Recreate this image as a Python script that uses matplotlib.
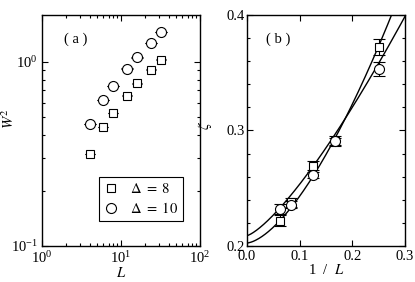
import numpy as np
import matplotlib
matplotlib.use("Agg")
import matplotlib.pyplot as plt
from matplotlib.lines import Line2D
from matplotlib.ticker import MultipleLocator, LogLocator, NullFormatter

plt.rcParams['font.family'] = ['Liberation Serif', 'DejaVu Serif']
plt.rcParams['mathtext.fontset'] = 'stix'
plt.rcParams['font.size'] = 10.5

# system sizes
L_vals = [4, 6, 8, 12, 16, 24, 32]
# W^2 vs L, panel (a)
w2_d8 = [0.316, 0.444, 0.528, 0.656, 0.765, 0.91, 1.03]
w2_d10 = [0.46, 0.622, 0.74, 0.92, 1.06, 1.27, 1.46]
w2_err_d8 = [0.001, 0.001, 0.001, 0.002, 0.002, 0.002, 0.003]
w2_err_d10 = [0.001, 0.002, 0.002, 0.002, 0.003, 0.003, 0.004]

# zeta vs 1/L, panel (b)
L_b = [4, 6, 8, 12, 16]
zeta_d8 = [0.372, 0.291, 0.2695, 0.2377, 0.222]
zeta_d10 = [0.353, 0.2905, 0.2615, 0.2357, 0.232]
zeta_err_d8 = [0.007, 0.004, 0.004, 0.004, 0.005]
zeta_err_d10 = [0.006, 0.003, 0.003, 0.003, 0.004]

# fit zeta = a + b * (1/L)^p
fit_d8 = (0.2026, 1.497, 1.567)
fit_d10 = (0.209, 0.93, 1.32)

fig = plt.figure(figsize=(4.15, 2.82), dpi=100)
ax1 = fig.add_axes([42/415, 1-246/282, 158/415, 231/282])
ax2 = fig.add_axes([247/415, 1-246/282, 158/415, 231/282])

mk = dict(mfc='white', mec='black', color='black', ls='none', mew=0.8,
          elinewidth=0.8, capthick=0.8)

ax1.errorbar(L_vals, w2_d8, yerr=w2_err_d8, marker='s', ms=6, capsize=3.6, **mk)
ax1.errorbar(L_vals, w2_d10, yerr=w2_err_d10, marker='o', ms=7.2, capsize=4.2, **mk)
ax1.set_xscale('log')
ax1.set_yscale('log')
ax1.set_xlim(1, 100)
ax1.set_ylim(0.1, 1.8)
ax1.xaxis.set_minor_locator(LogLocator(subs=np.arange(2, 10)))
ax1.yaxis.set_minor_locator(LogLocator(subs=np.arange(2, 10)))
ax1.xaxis.set_minor_formatter(NullFormatter())
ax1.yaxis.set_minor_formatter(NullFormatter())
ax1.set_xlabel(r'$L$', labelpad=0)
ax1.set_ylabel(r'$W^2$')
ax1.yaxis.set_label_coords(-25/158, 0.55)
ax1.text(0.14, 0.88, '( a )', transform=ax1.transAxes)

handles = [Line2D([], [], marker='s', ms=6, mfc='white', mec='black', mew=0.8, ls='none'),
           Line2D([], [], marker='o', ms=7.2, mfc='white', mec='black', mew=0.8, ls='none')]
leg = ax1.legend(handles, [r'$\Delta\ =\ 8$', r'$\Delta\ =\ 10$'], loc='lower right',
                 bbox_to_anchor=(0.94, 0.075), frameon=True, fancybox=False,
                 handletextpad=0.8, borderpad=0.35, labelspacing=0.35, handlelength=1.0,
                 fontsize=10.5, framealpha=1)
leg.get_frame().set_edgecolor('black')
leg.get_frame().set_linewidth(0.8)

x_b = 1.0 / np.array(L_b)
ax2.errorbar(x_b, zeta_d8, yerr=zeta_err_d8, marker='s', ms=6, capsize=4, **mk)
ax2.errorbar(x_b, zeta_d10, yerr=zeta_err_d10, marker='o', ms=7.2, capsize=4, **mk)
xx = np.linspace(0, 0.3, 200)
for a, b, p in (fit_d8, fit_d10):
    ax2.plot(xx, a + b * xx**p, color='black', lw=1.0)
ax2.set_xlim(0, 0.3)
ax2.set_ylim(0.2, 0.4)
ax2.xaxis.set_major_locator(MultipleLocator(0.1))
ax2.yaxis.set_major_locator(MultipleLocator(0.1))
ax2.yaxis.set_minor_locator(MultipleLocator(0.02))
ax2.set_xlabel(r'1  /  $L$', labelpad=0)
ax2.set_ylabel(r'$\zeta$')
ax2.yaxis.set_label_coords(-33/158, 0.52)
ax2.text(0.12, 0.88, '( b )', transform=ax2.transAxes)

for ax in (ax1, ax2):
    ax.tick_params(which='both', direction='in', top=True, right=True, width=0.8)
    ax.tick_params(which='major', length=4, pad=3)
    ax.tick_params(which='minor', length=2)
    for s in ax.spines.values():
        s.set_linewidth(1.0)
ax2.tick_params(axis='y', pad=1.5)

fig.savefig('out.png', dpi=100)
